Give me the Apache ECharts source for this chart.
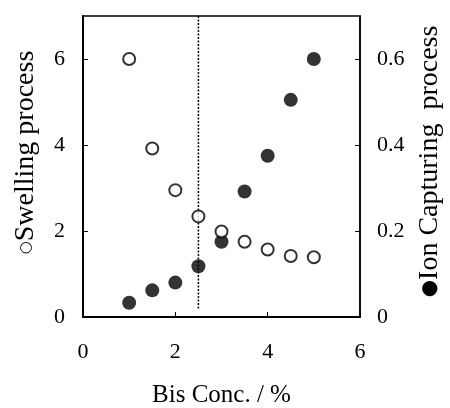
<!DOCTYPE html>
<html>
<head>
<meta charset="utf-8">
<script src="https://cdn.jsdelivr.net/npm/echarts@6/dist/echarts.min.js"></script>
<style>
  html, body { margin: 0; padding: 0; background: #fff; }
  #chart { width: 450px; height: 408px; }
</style>
</head>
<body>
<div id="chart"></div>
<script>
// Bis concentration (%)
const bisConc = [1, 1.5, 2, 2.5, 3, 3.5, 4, 4.5, 5];
// open circles, left axis
const swelling = [6.0, 3.92, 2.95, 2.34, 1.99, 1.75, 1.57, 1.42, 1.39];
// filled circles, right axis
const ionCapturing = [0.033, 0.062, 0.080, 0.118, 0.175, 0.292, 0.375, 0.505, 0.600];
// dotted marker line at 2.5 %
const markerX = 2.5;
const markerY = [7, 0.2];

const font = 'Liberation Serif, Times New Roman, serif';

const chart = echarts.init(document.getElementById('chart'), null, { renderer: 'canvas' });

const option = {
  backgroundColor: '#fff',
  animation: false,
  textStyle: { fontFamily: font, color: '#000' },
  grid: {
    left: 83, right: 90, top: 16, bottom: 91,
    outerBoundsMode: 'none',
    show: true, borderColor: '#000', borderWidth: 1.5, backgroundColor: 'transparent'
  },
  xAxis: {
    type: 'value',
    min: 0, max: 6, interval: 2,
    name: 'Bis Conc. / %',
    nameLocation: 'middle',
    nameGap: 66,
    nameTextStyle: { fontFamily: font, fontSize: 25, color: '#000' },
    axisLine: { show: true, onZero: false, lineStyle: { color: '#000', width: 2 } },
    axisTick: { show: true, inside: true, length: 5, lineStyle: { color: '#000', width: 1 } },
    axisLabel: { fontFamily: font, fontSize: 22, color: '#000', margin: 24 },
    splitLine: { show: false }
  },
  yAxis: [
    {
      type: 'value',
      min: 0, max: 7, interval: 2,
      name: '{c|○}Swelling process',
      nameLocation: 'middle',
      nameRotate: 90,
      nameGap: 43,
      nameTextStyle: {
        fontFamily: font, fontSize: 28, color: '#000',
        padding: [0, 0, 0, 28],
        rich: { c: { fontFamily: 'DejaVu Sans', fontSize: 15, color: '#000' } }
      },
      axisLine: { show: true, lineStyle: { color: '#000', width: 2 } },
      axisTick: { show: true, inside: true, length: 5, lineStyle: { color: '#000', width: 1 } },
      axisLabel: { fontFamily: font, fontSize: 22, color: '#000', margin: 18, showMaxLabel: false },
      splitLine: { show: false }
    },
    {
      type: 'value',
      min: 0, max: 0.7, interval: 0.2,
      position: 'right',
      name: '{c|●}Ion Capturing  process',
      nameLocation: 'middle',
      nameRotate: 90,
      nameGap: 56,
      nameTextStyle: {
        fontFamily: font, fontSize: 28, color: '#000',
        padding: [0, 0, 0, 10],
        rich: { c: { fontFamily: 'DejaVu Sans', fontSize: 20, color: '#000' } }
      },
      axisLine: { show: true, lineStyle: { color: '#000', width: 1.5 } },
      axisTick: { show: true, inside: true, length: 5, lineStyle: { color: '#000', width: 1 } },
      axisLabel: { fontFamily: font, fontSize: 22, color: '#000', margin: 17, showMaxLabel: false },
      splitLine: { show: false }
    }
  ],
  series: [
    {
      name: 'marker',
      type: 'line',
      yAxisIndex: 0,
      data: markerY.map(v => [markerX, v]),
      symbol: 'none',
      lineStyle: { color: '#000', width: 1.5, type: [2, 1.5] },
      z: 1
    },
    {
      name: 'Ion Capturing process',
      type: 'scatter',
      yAxisIndex: 1,
      data: bisConc.map((x, i) => [x, ionCapturing[i]]),
      symbol: 'circle',
      symbolSize: 14,
      itemStyle: { color: '#000' },
      z: 3
    },
    {
      name: 'Swelling process',
      type: 'scatter',
      yAxisIndex: 0,
      data: bisConc.map((x, i) => [x, swelling[i]]),
      symbol: 'circle',
      symbolSize: 12,
      itemStyle: { color: '#fff', borderColor: '#000', borderWidth: 2 },
      z: 4
    }
  ]
};

chart.setOption(option);
</script>
</body>
</html>
